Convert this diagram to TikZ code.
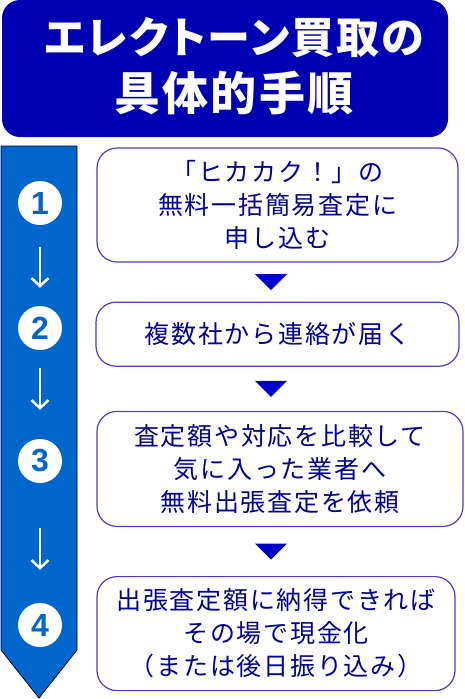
\documentclass[tikz,border=0pt]{standalone}
\usepackage{fontspec}
\usepackage{tikz}
\usetikzlibrary{positioning, arrows.meta, calc}
\newfontfamily\jpfont[LetterSpace=7]{Noto Sans CJK JP}
\newfontfamily\jptitle[LetterSpace=5, RawFeature=+palt]{Noto Sans CJK JP}
\newfontfamily\numfont{Liberation Sans}
\definecolor{azul_titulo}{RGB}{0,0,178}
\definecolor{azul_paso}{RGB}{0,102,204}
\definecolor{borde_caja}{RGB}{80,60,200}
\definecolor{texto_caja}{RGB}{0,0,150}
\definecolor{azul_tri}{RGB}{0,0,200}
\tikzset{
    box_titulo/.style={rectangle, rounded corners=18pt, fill=azul_titulo, minimum width=446pt, minimum height=137pt},
    texto_titulo/.style={text=white, align=center, font=\jptitle\bfseries\fontsize{43}{57}\selectfont},
    box_paso/.style={rectangle, rounded corners=20pt, draw=borde_caja, fill=white, line width=1.2pt, minimum width=361pt, minimum height=114pt, align=center, text=texto_caja, font=\jpfont\fontsize{25}{33}\selectfont},
    cuerpo_flecha/.style={fill=azul_paso, draw=black!80!blue, line width=0.8pt},
    circulo_num/.style={circle, fill=white, minimum size=44pt, inner sep=0pt, text=azul_paso, font=\numfont\bfseries\fontsize{32}{32}\selectfont},
    flecha_paso/.style={draw=white, line width=2.5pt, -{Straight Barb[length=8pt, width=17pt]}},
    triangulo/.pic={\fill[azul_tri] (-16,-8) -- (16,-8) -- (0,8) -- cycle;}
}
\begin{document}
\begin{tikzpicture}[x=1pt, y=-1pt]
    \useasboundingbox (0,0) rectangle (465,699);

    \node[box_titulo] (titulo) at (225,68.5) {};
    \node[texto_titulo, xshift=9pt, yshift=2pt] (titulo_txt) at (titulo.center) {エレクトーン買取の\\{\fontsize{46}{57}\selectfont 具体的手順}};

    % flecha lateral con los numeros
    \draw[cuerpo_flecha] (1,146) -- (77,146) -- (77,650) -- (39,698) -- (1,650) -- cycle;
    \node[circulo_num] (n1) at (40,203) {1};
    \node[circulo_num] (n2) at (40,328) {2};
    \node[circulo_num] (n3) at (40,461) {3};
    \node[circulo_num] (n4) at (40,625) {4};
    \draw[flecha_paso, shorten <=22pt, shorten >=18pt] (n1) -- (n2);
    \draw[flecha_paso, shorten <=18pt, shorten >=29pt] (n2) -- (n3);
    \draw[flecha_paso, shorten <=45pt, shorten >=33pt] (n3) -- (n4);

    % pasos
    \node[box_paso] (p1) at (277.5,205) {「ヒカカク！」の\\無料一括簡易査定に\\申し込む};
    \node[box_paso, below=39pt of p1, minimum width=363pt, minimum height=64pt] (p2) {複数社から連絡が届く};
    \node[box_paso, below=44pt of p2, xshift=2.5pt, minimum width=366pt, minimum height=115pt] (p3) {査定額や対応を比較して\\気に入った業者へ\\無料出張査定を依頼};
    \node[box_paso, below=49pt of p3, xshift=-4pt, minimum width=358pt] (p4) {出張査定額に納得できれば\\その場で現金化\\（または後日振り込み）};

    \coordinate (eje) at (271,0);
    \coordinate (t1) at ($(p1.south)!0.5!(p2.north)$);
    \coordinate (t2) at ($(p2.south)!0.5!(p3.north)$);
    \coordinate (t3) at ($(p3.south)!0.5!(p4.north)$);
    \pic at (eje |- t1) {triangulo};
    \pic at (eje |- t2) {triangulo};
    \pic at (eje |- t3) {triangulo};
\end{tikzpicture}
\end{document}
